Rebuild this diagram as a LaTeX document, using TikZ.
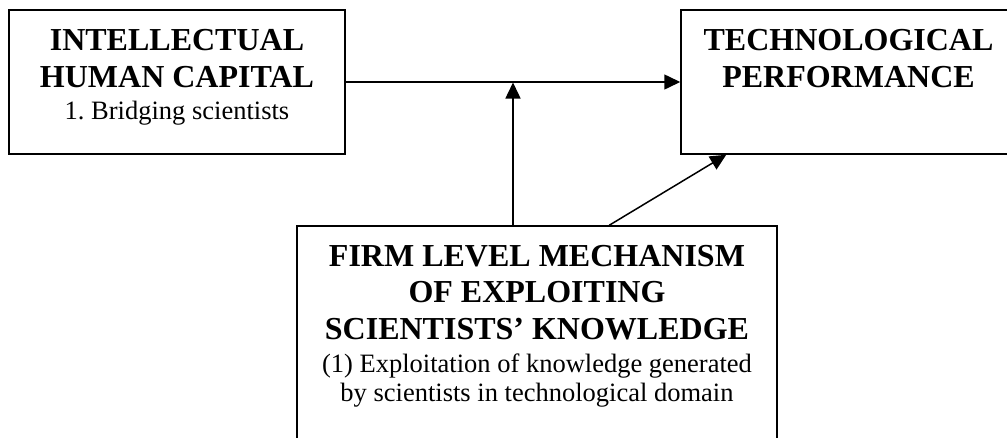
\documentclass[tikz,border=0pt]{standalone}
\usepackage{fontspec}
\setmainfont{Liberation Serif}
\usetikzlibrary{arrows.meta,calc}
\frenchspacing
\begin{document}
\begin{tikzpicture}[x=1pt,y=-1pt,
  frame/.style={draw=black,line width=1.5pt,rectangle,inner sep=0pt},
  headtext/.style={anchor=base,align=center,inner sep=0pt,
    font=\fontsize{32}{36.5}\selectfont\bfseries},
  notetext/.style={anchor=base,align=center,inner sep=0pt,
    font=\fontsize{26.5}{29}\selectfont},
  link/.style={draw=black,line width=1.5pt,-{Triangle[length=16pt,width=15pt]}}]
  \useasboundingbox (0,0) rectangle (1007,437);

  % the three boxes
  \node[frame,minimum width=336pt,minimum height=144pt] (ihc) at (177,82) {};
  \node[frame,minimum width=335pt,minimum height=144pt] (tp) at (848.5,82) {};
  \node[frame,minimum width=480pt,minimum height=244pt] (flm) at (537,348) {};

  % box texts (a multi-line node sits on the baseline of its last line)
  \node[headtext] (ihcHead) at (177,87) {INTELLECTUAL\\HUMAN CAPITAL};
  \node[notetext] (ihcNote) at (177,119) {1. Bridging scientists};
  \node[headtext] (tpHead) at (848.5,87) {TECHNOLOGICAL\\PERFORMANCE};
  \node[headtext] (flmHead) at (537,339) {FIRM LEVEL MECHANISM\\OF EXPLOITING\\SCIENTISTS’ KNOWLEDGE};
  \node[notetext] (flmNote) at (537,401) {(1) Exploitation of knowledge generated\\by scientists in technological domain};

  % connectors
  \draw[link] (ihc.east) -- (tp.west);
  \coordinate (meet) at (513,82.5);
  \draw[link] (meet |- flm.north) -- (meet);
  \draw[link] ($(flm.north west)+(313,0)$) -- ($(tp.south west)+(46,0)$);
\end{tikzpicture}
\end{document}
